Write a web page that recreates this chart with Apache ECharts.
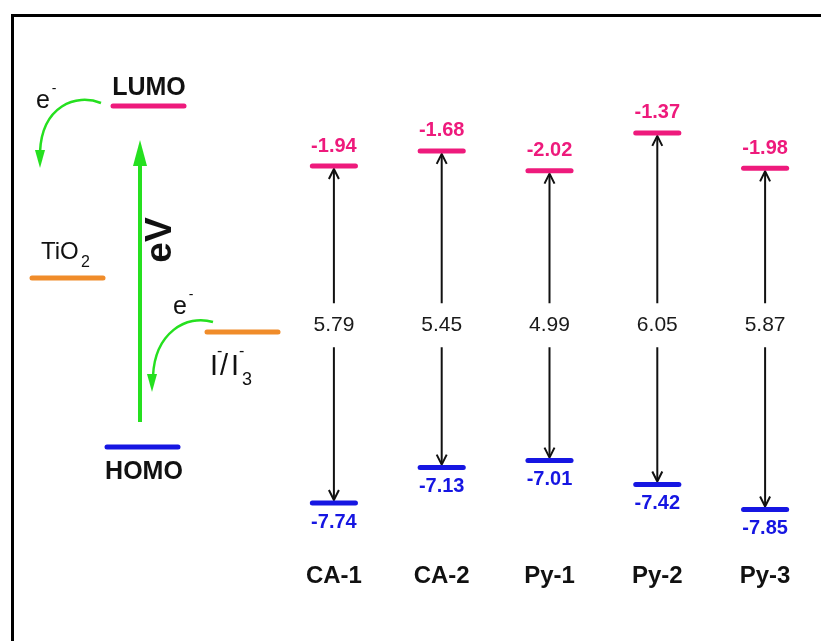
<!DOCTYPE html>
<html>
<head>
<meta charset="utf-8">
<script src="https://cdn.jsdelivr.net/npm/echarts@6/dist/echarts.min.js"></script>
<style>
  html, body { margin: 0; padding: 0; background: #ffffff; }
  #chart { width: 821px; height: 641px; }
</style>
</head>
<body>
<div id="chart"></div>
<script>
// Frontier orbital energies (eV) of the five dyes
const categories = ['CA-1', 'CA-2', 'Py-1', 'Py-2', 'Py-3'];
const lumo = [-1.94, -1.68, -2.02, -1.37, -1.98];
const homo = [-7.74, -7.13, -7.01, -7.42, -7.85];
const gapLabels = ['5.79', '5.45', '4.99', '6.05', '5.87'];
// energy level at which the gap values are written
const gapLabelLevel = -4.68;

const FONT = '"Liberation Sans", Arial, Helvetica, sans-serif';
const PINK = '#ee1a7c';
const BLUE = '#1616e2';
const ORANGE = '#f08c2a';
const GREEN = '#25e01f';
const INK = '#111111';

const lumoData = categories.map((c, i) => [i, lumo[i]]);
const homoData = categories.map((c, i) => [i, homo[i]]);
const gapData = categories.map((c, i) => [i, lumo[i], homo[i]]);

function levelRenderer(color, above) {
  return function (params, api) {
    const v = api.value(1);
    const p = api.coord([api.value(0), v]);
    const half = api.size([1, 0])[0] * 0.2;
    return {
      type: 'group',
      children: [
        {
          type: 'line',
          shape: { x1: p[0] - half, y1: p[1], x2: p[0] + half, y2: p[1] },
          style: { stroke: color, lineWidth: 5, lineCap: 'round' }
        },
        {
          type: 'text',
          x: p[0], y: p[1] + (above ? -20 : 19),
          style: {
            text: v.toFixed(2), fill: color,
            font: 'bold 20px ' + FONT, align: 'center', verticalAlign: 'middle'
          }
        }
      ]
    };
  };
}

function gapRenderer(params, api) {
  const x = api.value(0);
  const top = api.coord([x, api.value(1)]);
  const bot = api.coord([x, api.value(2)]);
  const mid = api.coord([x, gapLabelLevel]);
  const x0 = top[0];
  const y1 = top[1] + 3, y2 = bot[1] - 3;
  const head = 10, hw = 5;
  const stroke = { stroke: INK, lineWidth: 2, fill: null, lineJoin: 'miter' };
  return {
    type: 'group',
    children: [
      { type: 'line', shape: { x1: x0, y1: y1 + 1, x2: x0, y2: y2 - 1 }, style: { stroke: INK, lineWidth: 2 } },
      { type: 'polyline', shape: { points: [[x0 - hw, y1 + head], [x0, y1], [x0 + hw, y1 + head]] }, style: stroke },
      { type: 'polyline', shape: { points: [[x0 - hw, y2 - head], [x0, y2], [x0 + hw, y2 - head]] }, style: stroke },
      { type: 'rect', shape: { x: x0 - 30, y: mid[1] - 22, width: 60, height: 44 }, style: { fill: '#ffffff' } },
      {
        type: 'text', x: x0, y: mid[1],
        style: {
          text: gapLabels[params.dataIndex], fill: '#1a1a1a',
          font: '21px ' + FONT, align: 'center', verticalAlign: 'middle'
        }
      }
    ]
  };
}

// Schematic of electron injection / regeneration on the left
const schematic = [
  { type: 'rect', shape: { x: 12.5, y: 15.5, width: 900, height: 700 }, style: { fill: null, stroke: '#000', lineWidth: 3 }, z: 10 },

  { type: 'line', shape: { x1: 113, y1: 106, x2: 184, y2: 106 }, style: { stroke: PINK, lineWidth: 5, lineCap: 'round' } },
  { type: 'text', x: 149, y: 88, style: { text: 'LUMO', fill: INK, font: 'bold 25px ' + FONT, align: 'center', verticalAlign: 'middle' } },

  { type: 'line', shape: { x1: 107, y1: 447, x2: 178, y2: 447 }, style: { stroke: BLUE, lineWidth: 5, lineCap: 'round' } },
  { type: 'text', x: 144, y: 472, style: { text: 'HOMO', fill: INK, font: 'bold 25px ' + FONT, align: 'center', verticalAlign: 'middle' } },

  { type: 'line', shape: { x1: 32, y1: 278, x2: 103, y2: 278 }, style: { stroke: ORANGE, lineWidth: 5, lineCap: 'round' } },
  { type: 'text', x: 41, y: 252, style: { text: 'TiO', fill: INK, font: '24px ' + FONT, align: 'left', verticalAlign: 'middle' } },
  { type: 'text', x: 81, y: 263, style: { text: '2', fill: INK, font: '16px ' + FONT, align: 'left', verticalAlign: 'middle' } },

  { type: 'line', shape: { x1: 207, y1: 332, x2: 278, y2: 332 }, style: { stroke: ORANGE, lineWidth: 5, lineCap: 'round' } },
  { type: 'text', x: 210, y: 367, style: { text: 'I', fill: INK, font: '29px ' + FONT, align: 'left', verticalAlign: 'middle' } },
  { type: 'text', x: 217, y: 352, style: { text: '-', fill: INK, font: '16px ' + FONT, align: 'left', verticalAlign: 'middle' } },
  { type: 'text', x: 220, y: 367, style: { text: '/', fill: INK, font: '29px ' + FONT, align: 'left', verticalAlign: 'middle' } },
  { type: 'text', x: 231, y: 367, style: { text: 'I', fill: INK, font: '29px ' + FONT, align: 'left', verticalAlign: 'middle' } },
  { type: 'text', x: 239, y: 352, style: { text: '-', fill: INK, font: '16px ' + FONT, align: 'left', verticalAlign: 'middle' } },
  { type: 'text', x: 242, y: 380, style: { text: '3', fill: INK, font: '18px ' + FONT, align: 'left', verticalAlign: 'middle' } },

  // excitation arrow
  { type: 'line', shape: { x1: 140, y1: 422, x2: 140, y2: 160 }, style: { stroke: GREEN, lineWidth: 4 } },
  { type: 'polygon', shape: { points: [[140, 140], [133, 166], [147, 166]] }, style: { fill: GREEN } },
  { type: 'text', x: 161, y: 240, rotation: Math.PI / 2, style: { text: 'eV', fill: INK, font: 'bold 37px ' + FONT, align: 'center', verticalAlign: 'middle' } },

  // injection into TiO2
  { type: 'bezierCurve', shape: { x1: 101, y1: 103, cpx1: 76, cpy1: 93, cpx2: 42, cpy2: 106, x2: 40, y2: 152 }, style: { stroke: GREEN, lineWidth: 2.5, fill: null } },
  { type: 'polygon', shape: { points: [[40, 168], [35, 150], [45, 150]] }, style: { fill: GREEN } },
  { type: 'text', x: 43, y: 101, style: { text: 'e', fill: INK, font: '25px ' + FONT, align: 'center', verticalAlign: 'middle' } },
  { type: 'text', x: 54, y: 89, style: { text: '-', fill: INK, font: '14px ' + FONT, align: 'center', verticalAlign: 'middle' } },

  // regeneration by the electrolyte
  { type: 'bezierCurve', shape: { x1: 213, y1: 322, cpx1: 186, cpy1: 314, cpx2: 155, cpy2: 333, x2: 153, y2: 376 }, style: { stroke: GREEN, lineWidth: 2.5, fill: null } },
  { type: 'polygon', shape: { points: [[152, 392], [147, 374], [157, 374]] }, style: { fill: GREEN } },
  { type: 'text', x: 180, y: 307, style: { text: 'e', fill: INK, font: '25px ' + FONT, align: 'center', verticalAlign: 'middle' } },
  { type: 'text', x: 191, y: 295, style: { text: '-', fill: INK, font: '14px ' + FONT, align: 'center', verticalAlign: 'middle' } }
];

const chart = echarts.init(document.getElementById('chart'), null, { renderer: 'canvas' });
chart.setOption({
  backgroundColor: '#ffffff',
  animation: false,
  grid: { left: 280, right: 2, top: 53.3, height: 493.9 },
  xAxis: {
    type: 'category',
    data: categories,
    axisLine: { show: false },
    axisTick: { show: false },
    splitLine: { show: false },
    axisLabel: { margin: 17, color: INK, fontWeight: 'bold', fontSize: 24, fontFamily: FONT }
  },
  yAxis: {
    type: 'value', min: -8.5, max: 0,
    show: false, splitLine: { show: false }
  },
  graphic: { elements: schematic },
  series: [
    { type: 'custom', name: 'gap', data: gapData, encode: { x: 0, y: [1, 2] }, renderItem: gapRenderer, z: 2, clip: false },
    { type: 'custom', name: 'LUMO', data: lumoData, encode: { x: 0, y: 1 }, renderItem: levelRenderer(PINK, true), z: 3, clip: false },
    { type: 'custom', name: 'HOMO', data: homoData, encode: { x: 0, y: 1 }, renderItem: levelRenderer(BLUE, false), z: 3, clip: false }
  ]
});
</script>
</body>
</html>
